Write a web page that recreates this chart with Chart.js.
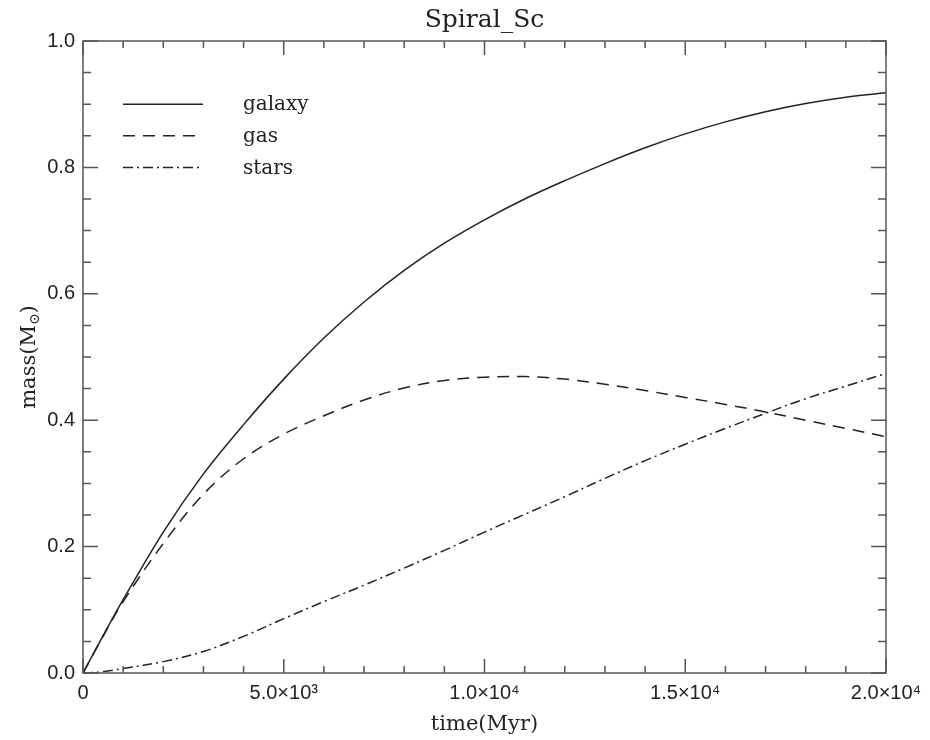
<!DOCTYPE html>
<html>
<head>
<meta charset="utf-8">
<script src="https://cdn.jsdelivr.net/npm/chart.js@4.4.1/dist/chart.umd.min.js"></script>
<style>
    html, body { margin: 0; padding: 0; background: #fff; }
    #wrap { width: 930px; height: 740px; }
</style>
</head>
<body>
<div id="wrap"><canvas id="massChart" width="930" height="740"></canvas></div>
<script>
// values (time in Myr, mass in solar units)
const times  = [0, 500, 1000, 2000, 3000, 4000, 5000, 6000, 7000, 8000, 9000, 10000,
                11000, 12000, 13000, 14000, 15000, 16000, 17000, 18000, 19000, 20000];
const galaxy = [0, 0.059, 0.116, 0.223, 0.315, 0.393, 0.465, 0.530, 0.587, 0.637, 0.680, 0.717,
                0.750, 0.779, 0.806, 0.831, 0.853, 0.872, 0.888, 0.901, 0.911, 0.918];
const gas    = [0, 0.058, 0.113, 0.205, 0.283, 0.339, 0.378, 0.407, 0.432, 0.451, 0.463, 0.468,
                0.469, 0.465, 0.457, 0.447, 0.436, 0.425, 0.413, 0.400, 0.387, 0.374];
const stars  = [0, 0.002, 0.007, 0.018, 0.034, 0.058, 0.086, 0.113, 0.139, 0.166, 0.194, 0.223,
                0.251, 0.279, 0.308, 0.336, 0.362, 0.387, 0.411, 0.434, 0.454, 0.474];

const seriesNames = ["galaxy", "gas", "stars"];
const chartTitle = "Spiral_Sc";
const xTitle = "time(Myr)";
const yTitleMain = "mass(M";
const yTitleSub = "\u2299";

const LINE = "#222";
const AXIS = "#555";
const serif = "'DejaVu Serif', 'Liberation Serif', serif";

const sup = { "0": "\u2070", "1": "\u00b9", "2": "\u00b2", "3": "\u00b3", "4": "\u2074",
              "5": "\u2075", "6": "\u2076", "7": "\u2077", "8": "\u2078", "9": "\u2079" };

function sciLabel(v) {
    if (v === 0) return "0";
    const e = Math.floor(Math.log10(v));
    const m = (v / Math.pow(10, e)).toFixed(1);
    return m + "\u00d710" + String(e).split("").map(c => sup[c]).join("");
}

function toPoints(arr) {
    return times.map((t, i) => ({ x: t, y: arr[i] }));
}

// box, inward ticks, legend and titles
const idlFrame = {
    id: "idlFrame",
    afterDatasetsDraw(chart) {
        const ctx = chart.ctx;
        const a = chart.chartArea;
        const xs = chart.scales.x, ys = chart.scales.y;
        ctx.save();

        ctx.strokeStyle = AXIS;
        ctx.lineWidth = 1.5;
        ctx.strokeRect(a.left, a.top, a.right - a.left, a.bottom - a.top);

        ctx.beginPath();
        for (let t = 0; t <= 20000; t += 1000) {
            const px = xs.getPixelForValue(t);
            const len = (t % 5000 === 0) ? 14 : 7;
            ctx.moveTo(px, a.bottom); ctx.lineTo(px, a.bottom - len);
            ctx.moveTo(px, a.top); ctx.lineTo(px, a.top + len);
        }
        for (let k = 0; k <= 20; k++) {
            const py = ys.getPixelForValue(k * 0.05);
            const len = (k % 4 === 0) ? 15 : 8;
            ctx.moveTo(a.left, py); ctx.lineTo(a.left + len, py);
            ctx.moveTo(a.right, py); ctx.lineTo(a.right - len, py);
        }
        ctx.stroke();

        // legend
        ctx.font = "20px " + serif;
        ctx.textBaseline = "middle";
        ctx.textAlign = "left";
        chart.data.datasets.forEach((ds, i) => {
            const ly = ys.getPixelForValue(0.9 - i * 0.05);
            ctx.strokeStyle = ds.borderColor;
            ctx.lineWidth = ds.borderWidth;
            ctx.setLineDash(ds.borderDash || []);
            ctx.beginPath();
            ctx.moveTo(123, ly); ctx.lineTo(203, ly);
            ctx.stroke();
            ctx.setLineDash([]);
            ctx.fillStyle = LINE;
            ctx.fillText(ds.label, 243, ly + 1);
        });

        // titles
        ctx.fillStyle = LINE;
        ctx.textAlign = "center";
        ctx.textBaseline = "alphabetic";
        const cx = (a.left + a.right) / 2;
        ctx.font = "25px " + serif;
        ctx.fillText(chartTitle, cx, 27);
        ctx.font = "21px " + serif;
        ctx.fillText(xTitle, cx, 730);

        ctx.translate(35, (a.top + a.bottom) / 2);
        ctx.rotate(-Math.PI / 2);
        ctx.font = "21px " + serif;
        const w1 = ctx.measureText(yTitleMain).width;
        ctx.font = "14px " + serif;
        const w2 = ctx.measureText(yTitleSub).width;
        ctx.font = "21px " + serif;
        const w3 = ctx.measureText(")").width;
        const x0 = -(w1 + w2 + w3) / 2;
        ctx.textAlign = "left";
        ctx.fillText(yTitleMain, x0, 0);
        ctx.font = "14px " + serif;
        ctx.fillText(yTitleSub, x0 + w1, 4);
        ctx.font = "21px " + serif;
        ctx.fillText(")", x0 + w1 + w2, 0);
        ctx.restore();
    }
};

const ctx = document.getElementById("massChart").getContext("2d");
new Chart(ctx, {
    type: "line",
    data: {
        datasets: [
            { label: seriesNames[0], data: toPoints(galaxy), borderColor: LINE, borderWidth: 1.5, borderDash: [] },
            { label: seriesNames[1], data: toPoints(gas), borderColor: LINE, borderWidth: 1.5, borderDash: [12, 8] },
            { label: seriesNames[2], data: toPoints(stars), borderColor: LINE, borderWidth: 1.5, borderDash: [10, 4, 2, 4] }
        ]
    },
    options: {
        responsive: false,
        animation: false,
        devicePixelRatio: 1,
        layout: { padding: { top: 41, right: 44, left: 0, bottom: 0 } },
        elements: {
            point: { radius: 0 },
            line: { tension: 0.35, fill: false }
        },
        scales: {
            x: {
                type: "linear",
                min: 0,
                max: 20000,
                grid: { display: false, drawTicks: false },
                border: { display: false },
                ticks: {
                    stepSize: 5000,
                    padding: 8,
                    maxRotation: 0,
                    color: LINE,
                    font: { family: "'Liberation Sans', Arial, sans-serif", size: 20 },
                    callback: v => sciLabel(v)
                },
                afterFit: s => { s.height = 67; s.paddingLeft = 0; s.paddingRight = 0; }
            },
            y: {
                min: 0,
                max: 1,
                grid: { display: false, drawTicks: false },
                border: { display: false },
                ticks: {
                    stepSize: 0.2,
                    padding: 8,
                    color: LINE,
                    font: { family: "'Liberation Sans', Arial, sans-serif", size: 20 },
                    callback: v => v.toFixed(1)
                },
                afterFit: s => { s.width = 83; }
            }
        },
        plugins: {
            legend: { display: false },
            title: { display: false },
            tooltip: { enabled: false }
        }
    },
    plugins: [idlFrame]
});
</script>
</body>
</html>
